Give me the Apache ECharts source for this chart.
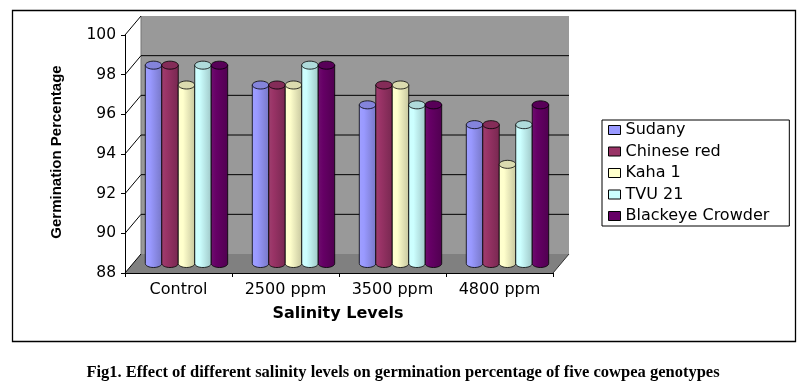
<!DOCTYPE html>
<html><head><meta charset="utf-8">
<script src="https://cdn.jsdelivr.net/npm/echarts@6/dist/echarts.min.js"></script>
<style>html,body{margin:0;padding:0;background:#fff}#c{width:805px;height:389px}</style>
</head><body><div id="c"></div>
<script>
// ---- data ----
var categories = ['Control', '2500 ppm', '3500 ppm', '4800 ppm'];
var seriesNames = ['Sudany', 'Chinese red', 'Kaha 1', 'TVU 21', 'Blackeye Crowder'];
var sudany = [98, 97, 96, 95];
var chineseRed = [98, 97, 97, 95];
var kaha1 = [97, 97, 97, 93];
var tvu21 = [98, 98, 96, 95];
var blackeyeCrowder = [98, 98, 96, 96];
var yMin = 88, yMax = 100, yStep = 2;
var yTickValues = [88, 90, 92, 94, 96, 98, 100];

var seriesValues = [sudany, chineseRed, kaha1, tvu21, blackeyeCrowder];
var colors = ['#9999FF', '#993366', '#FFFFCC', '#CCFFFF', '#660066'];

// ---- style helpers ----
var DX = 16, DY = -19;
function hexToRgb(h){h=h.replace('#','');return [parseInt(h.substr(0,2),16),parseInt(h.substr(2,2),16),parseInt(h.substr(4,2),16)];}
function shade(h, f){var c=hexToRgb(h);return 'rgb('+c.map(function(v){return Math.max(0,Math.min(255,Math.round(f>=1? v+(255-v)*(f-1) : v*f)));}).join(',')+')';}

function makeCyl(si){
  return function(params, api){
    var c = api.value(0), v = api.value(1);
    var pTop = api.coord([c, v]);
    var pBase = api.coord([c, yMin]);
    var band = api.size([1, 0])[0];
    var bw = band * 0.77 / 5;
    var x0 = pTop[0] - 2.5 * bw + si * bw + DX / 2;
    var x1 = x0 + bw;
    var yT = pTop[1] + DY / 2, yB = pBase[1] + DY / 2;
    var rx = bw / 2, ry = 4, cx = x0 + rx, N = 16, k, a;
    var body = [[x0, yT], [x0, yB]];
    for (k = 1; k < N; k++) { a = Math.PI - Math.PI * k / N; body.push([cx + rx * Math.cos(a), yB + ry * Math.sin(a)]); }
    body.push([x1, yB], [x1, yT]);
    var top = [];
    for (k = 0; k < 2 * N; k++) { a = Math.PI * k / N; top.push([cx + rx * Math.cos(a), yT + ry * Math.sin(a)]); }
    var col = colors[si];
    var grad = new echarts.graphic.LinearGradient(0, 0, 1, 0, [
      {offset: 0, color: shade(col, 1.06)},
      {offset: 0.3, color: col},
      {offset: 1, color: shade(col, 0.78)}
    ]);
    return {type: 'group', children: [
      {type: 'polygon', shape: {points: body}, style: {fill: grad, stroke: '#000', lineWidth: 0.8}},
      {type: 'polygon', shape: {points: top}, style: {fill: shade(col, 0.86), stroke: '#000', lineWidth: 0.8}}
    ]};
  };
}

function renderDecor(params, api){
  var cs = params.coordSys;
  var L = cs.x, T = cs.y, R = cs.x + cs.width, B = cs.y + cs.height;
  var ch = [];
  ch.push({type: 'rect', shape: {x: L + DX, y: T + DY, width: R - L, height: B - T}, style: {fill: '#999999'}});
  ch.push({type: 'polygon', shape: {points: [[L, B], [R, B], [R + DX, B + DY], [L + DX, B + DY]]}, style: {fill: '#808080'}});
  ch.push({type: 'line', shape: {x1: L + DX, y1: T + DY, x2: L + DX, y2: B + DY}, style: {stroke: '#777', lineWidth: 1}});
  yTickValues.forEach(function(v){
    var y = api.coord([0, v])[1];
    if (v > yMin && v < yMax) {
      ch.push({type: 'line', shape: {x1: L + DX, y1: y + DY, x2: R + DX, y2: y + DY}, style: {stroke: '#000', lineWidth: 1}});
    }
    ch.push({type: 'line', shape: {x1: L, y1: y, x2: L + DX, y2: y + DY}, style: {stroke: '#000', lineWidth: 1}});
  });
  ch.push({type: 'line', shape: {x1: R, y1: B, x2: R + DX, y2: B + DY}, style: {stroke: '#333', lineWidth: 1}});
  return {type: 'group', children: ch};
}

var series = [{
  type: 'custom', name: '_decor', silent: true, z: 0,
  data: [[0, yMin]], renderItem: renderDecor, clip: false
}];
seriesNames.forEach(function(n, si){
  series.push({
    type: 'custom', name: n, z: 2 + si, clip: false,
    itemStyle: {color: colors[si], borderColor: '#000', borderWidth: 1},
    data: seriesValues[si].map(function(v, i){ return [i, v]; }),
    encode: {x: 0, y: 1},
    renderItem: makeCyl(si)
  });
});

var chart = echarts.init(document.getElementById('c'), null, {renderer: 'canvas'});
chart.setOption({
  animation: false,
  backgroundColor: '#fff',
  grid: {left: 125, right: 252, top: 35, bottom: 116, containLabel: false},
  xAxis: {
    type: 'category', data: categories,
    axisLine: {show: true, lineStyle: {color: '#000', width: 1}, onZero: false},
    axisTick: {show: true, length: 4, lineStyle: {color: '#000'}},
    axisLabel: {color: '#000', fontFamily: 'DejaVu Sans', fontSize: 16, margin: 9},
    splitLine: {show: false}, z: 10
  },
  yAxis: {
    type: 'value', min: yMin, max: yMax, interval: yStep,
    axisLine: {show: true, lineStyle: {color: '#000', width: 1}},
    axisTick: {show: true, length: 4, lineStyle: {color: '#000'}},
    axisLabel: {color: '#000', fontFamily: 'DejaVu Sans', fontSize: 15.5, margin: 9},
    splitLine: {show: false}, z: 10
  },
  legend: {
    data: seriesNames, orient: 'vertical', left: 602, top: 120,
    icon: 'rect', itemWidth: 12, itemHeight: 9, itemGap: 5.5,
    padding: [2, 20, 2, 6],
    borderColor: '#000', borderWidth: 1,
    textStyle: {color: '#000', fontFamily: 'DejaVu Sans', fontSize: 16},
    itemStyle: {borderColor: '#000', borderWidth: 1},
    selectedMode: false
  },
  graphic: [
    {type: 'rect', left: 10, top: 8, shape: {width: 783, height: 331}, style: {fill: 'none', stroke: '#000', lineWidth: 1.3}, silent: true, z: 100},
    {type: 'text', x: 57, y: 152, rotation: Math.PI / 2, style: {text: 'Germination Percentage', font: 'bold 15px "Liberation Sans"', fill: '#000', align: 'center', verticalAlign: 'middle'}},
    {type: 'text', x: 338, y: 314, style: {text: 'Salinity Levels', font: 'bold 16px "DejaVu Sans"', fill: '#000', align: 'center', verticalAlign: 'middle'}},
    {type: 'text', x: 403, y: 373, style: {text: 'Fig1. Effect of different salinity levels on germination percentage of five cowpea genotypes', font: 'bold 16.5px "Liberation Serif"', fill: '#000', align: 'center', verticalAlign: 'middle'}}
  ],
  series: series
});
</script>
</body></html>
